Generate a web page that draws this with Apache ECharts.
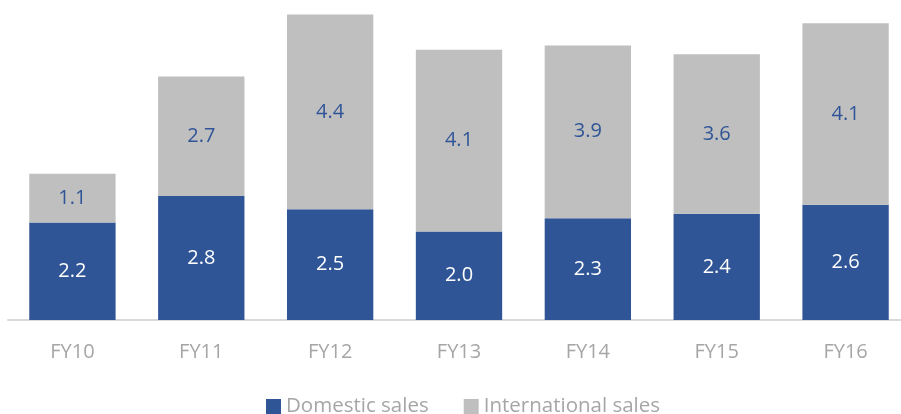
<!DOCTYPE html>
<html>
<head>
<meta charset="utf-8">
<script src="https://cdn.jsdelivr.net/npm/echarts@6/dist/echarts.min.js"></script>
<style>
  html, body { margin: 0; padding: 0; background: #fff; }
  #chart { width: 901px; height: 414px; }
</style>
</head>
<body>
<div id="chart"></div>
<script>
const years = ['FY10', 'FY11', 'FY12', 'FY13', 'FY14', 'FY15', 'FY16'];
const domestic = [2.2, 2.8, 2.5, 2.0, 2.3, 2.4, 2.6];
const international = [1.1, 2.7, 4.4, 4.1, 3.9, 3.6, 4.1];

const font = '"Open Sans", sans-serif';
const chart = echarts.init(document.getElementById('chart'));

chart.setOption({
  animation: false,
  grid: { left: 8, right: -9, top: 10, bottom: 94, outerBoundsMode: 'none' },
  legend: {
    bottom: -3,
    left: 266,
    padding: 0,
    itemWidth: 15,
    itemHeight: 15,
    itemGap: 35,
    icon: 'rect',
    textStyle: { color: '#A6A6A6', fontSize: 20.5, fontFamily: font }
  },
  xAxis: {
    type: 'category',
    data: years,
    axisLine: { lineStyle: { color: '#D9D9D9', width: 2 } },
    axisTick: { show: false },
    axisLabel: { color: '#A6A6A6', fontSize: 20, fontFamily: font, margin: 22 }
  },
  yAxis: { type: 'value', min: 0, max: 7, show: false, splitLine: { show: false } },
  series: [
    {
      name: 'Domestic sales',
      type: 'bar',
      stack: 'sales',
      data: domestic,
      barCategoryGap: '33%',
      itemStyle: { color: '#2F5597' },
      label: {
        show: true, position: 'inside', color: '#fff', fontSize: 20, fontFamily: font,
        formatter: p => p.value.toFixed(1)
      }
    },
    {
      name: 'International sales',
      type: 'bar',
      stack: 'sales',
      data: international,
      itemStyle: { color: '#BFBFBF' },
      label: {
        show: true, position: 'inside', color: '#2F5597', fontSize: 20, fontFamily: font,
        formatter: p => p.value.toFixed(1)
      }
    }
  ]
});
</script>
</body>
</html>
